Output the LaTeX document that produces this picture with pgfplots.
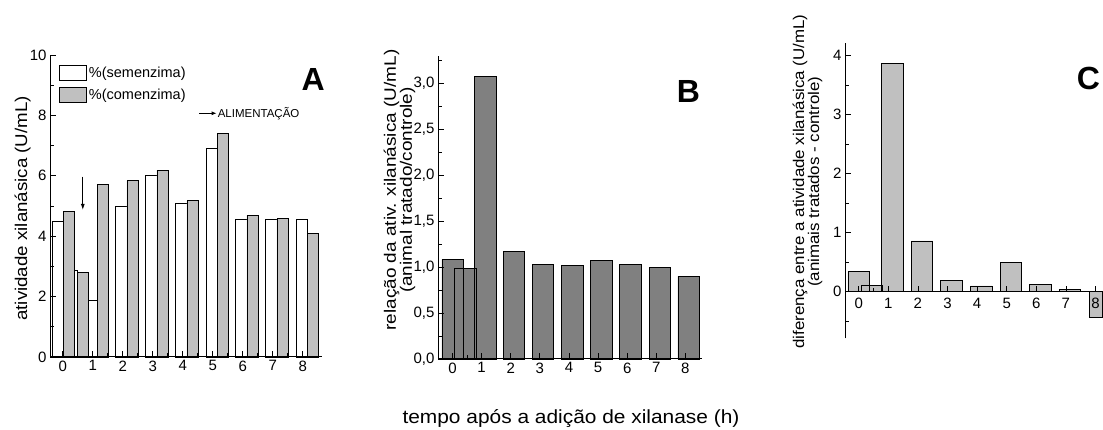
\documentclass[border=0pt]{standalone}
\usepackage{fontspec}
\setmainfont{Liberation Sans}
\usepackage{graphicx}
\usepackage{pgfplots}
\pgfplotsset{compat=1.18}
\usetikzlibrary{arrows.meta}
\definecolor{lgray}{RGB}{192,192,192}
\definecolor{dgray}{RGB}{128,128,128}
\newcommand{\fs}[1]{\fontsize{#1}{#1}\selectfont}
\newcommand{\sx}[2][1.07]{\scalebox{#1}[1]{#2}}
\pgfplotsset{
  common/.style={
    scale only axis, anchor=south west, axis on top, clip=false,
    axis line style={-, line width=1pt, black},
    tick align=inside,
    tick style={black, line width=0.8pt},
    major tick length=6pt, minor tick length=4pt,
    /pgf/number format/assume math mode=true,
    tick label style={font=\fs{15}},
    xtick={0,...,8},
  },
  legimg/.style={legend image code/.code={\draw[##1, line width=0.8pt] (0pt,-7.5pt) rectangle (26.7pt,7.5pt);}},
}
\begin{document}
\begin{tikzpicture}
\useasboundingbox (0pt,0pt) rectangle (1103pt,430pt);
\clip (0pt,0pt) rectangle (1103pt,430pt);
% ---------------- Panel A
\begin{axis}[common,
  at={(50pt,73pt)}, width=272pt, height=302pt,
  xmin=-0.423, xmax=8.643, ymin=0, ymax=10,
  axis x line*=bottom, axis y line*=left,
  ytick={0,2,...,10}, minor ytick={1,3,...,9},
  minor xtick={0.5,1.5,...,7.5},
  ylabel={\sx[1.1]{atividade xilanásica (U/mL)}},
  ylabel style={at={(axis description cs:-0.101,0.492)}, anchor=center, font=\fs{17}},
  legend cell align=left,
  legend style={at={(axis description cs:0.034,0.969)}, anchor=north west, draw=none, fill=none, inner sep=0pt, row sep=6.5pt, font=\fs{14.5}},
]
\addlegendimage{legimg, fill=white, draw=black}
\addlegendentry{\%(semenzima)}
\addlegendimage{legimg, fill=lgray, draw=black}
\addlegendentry{\%(comenzima)}
\addplot[ybar, bar width=0.375, bar shift=0pt, fill=white, draw=black, line width=0.8pt, forget plot] coordinates {
(-0.17,4.48) (0.30,2.88) (0.97,1.86) (1.96,4.98) (2.96,6.00) (3.96,5.09) (4.97,6.91) (5.96,4.57) (6.96,4.54) (7.97,4.54)};
\addplot[ybar, bar width=0.375, bar shift=0pt, fill=lgray, draw=black, line width=0.8pt, forget plot] coordinates {
(0.20,4.83) (0.68,2.81) (1.34,5.72) (2.33,5.84) (3.33,6.19) (4.33,5.17) (5.34,7.41) (6.33,4.70) (7.33,4.59) (8.34,4.10)};
\draw[line width=0.9pt, -{Latex[length=6pt,width=4pt]}] (axis cs:0.67,5.97) -- (axis cs:0.67,4.87);
\draw[line width=0.9pt, -{Latex[length=5pt,width=4pt]}] (axis cs:4.55,8.07) -- (axis cs:5.13,8.07);
\node[anchor=west, inner sep=1pt, font=\fs{11.5}] at (axis cs:5.13,8.07) {ALIMENTAÇÃO};
\end{axis}
% ---------------- Panel B
\begin{axis}[common,
  at={(438pt,71pt)}, width=263.7pt, height=303.3pt,
  xmin=-0.5, xmax=8.56, ymin=0, ymax=3.3,
  axis x line*=bottom, axis y line*=left,
  ytick={0,0.5,...,3.0}, minor ytick={0.25,0.75,...,3.25},
  minor xtick={0.5},
  yticklabel style={/pgf/number format/.cd, fixed, fixed zerofill, precision=1, use comma},
  ylabel={\sx[1.15]{relação da ativ. xilanásica (U/mL)}\\\sx[1.15]{(animal tratado/controle)}},
  ylabel style={at={(axis description cs:-0.146,0.557)}, anchor=center, align=center, font=\fontsize{16.5}{16}\selectfont},
]
\addplot[ybar, bar width=0.73, bar shift=0pt, fill=dgray, draw=black, line width=0.8pt] coordinates {
(0,1.085) (0.44,0.99) (1.13,3.07) (2.12,1.17) (3.11,1.03) (4.12,1.015) (5.11,1.07) (6.11,1.03) (7.12,1.00) (8.11,0.90)};
\end{axis}
% ---------------- Panel C
\begin{axis}[common,
  at={(845pt,91.7pt)}, width=258pt, height=295pt,
  xmin=-0.463, xmax=8.253, ymin=-0.79, ymax=4.21,
  axis x line*=middle, axis y line*=left,
  ytick={0,...,4}, minor ytick={-0.5,0.5,...,3.5},
  minor xtick={0.5},
  xticklabel style={yshift=-3pt},
  ylabel={\sx[1.09]{diferença entre a atividade xilanásica (U/mL)}\\\sx[1.09]{(animais tratados - controle)}},
  ylabel style={at={(axis description cs:-0.145,0.531)}, anchor=center, align=center, font=\fontsize{15.5}{15}\selectfont},
]
\addplot[ybar, bar width=0.726, bar shift=0pt, fill=lgray, draw=black, line width=0.8pt] coordinates {
(0,0.34) (0.44,0.10) (1.14,3.87) (2.14,0.86) (3.13,0.19) (4.14,0.097) (5.14,0.49) (6.14,0.13) (7.14,0.04)};
\addplot[ybar, bar width=0.44, bar shift=0pt, fill=lgray, draw=black, line width=0.8pt] coordinates {(8.02,-0.43)};
\end{axis}
% ---------------- labels
\node[font=\fs{32}\bfseries] at (313.3pt,350pt) {A};
\node[font=\fs{32}\bfseries] at (688.3pt,338.3pt) {B};
\node[font=\fs{32}\bfseries] at (1088.3pt,351.7pt) {C};
\node[font=\fs{19}] at (571pt,11pt) {\scalebox{1.1}[1]{tempo após a adição de xilanase (h)}};
\end{tikzpicture}
\end{document}
